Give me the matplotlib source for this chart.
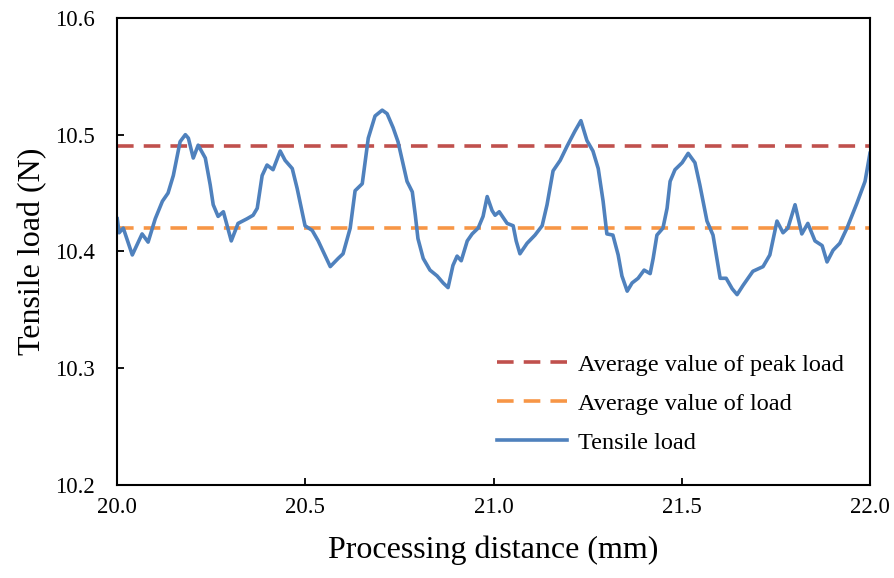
import matplotlib
matplotlib.use('Agg')
import matplotlib.pyplot as plt
from matplotlib.ticker import FormatStrFormatter

# measured tensile load along the processing distance
distance = [20.000, 20.005, 20.016, 20.040, 20.066, 20.082, 20.101, 20.120, 20.135, 20.149,
            20.167, 20.181, 20.189, 20.202, 20.215, 20.234, 20.247, 20.255, 20.268, 20.282,
            20.292, 20.303, 20.321, 20.345, 20.361, 20.372, 20.385, 20.398, 20.414, 20.433,
            20.446, 20.465, 20.478, 20.499, 20.518, 20.534, 20.566, 20.587, 20.600, 20.619,
            20.632, 20.651, 20.667, 20.685, 20.704, 20.717, 20.733, 20.746, 20.760, 20.770,
            20.784, 20.792, 20.799, 20.813, 20.831, 20.850, 20.866, 20.879, 20.892, 20.903,
            20.914, 20.930, 20.943, 20.959, 20.972, 20.983, 20.996, 21.004, 21.015, 21.036,
            21.052, 21.060, 21.070, 21.089, 21.110, 21.129, 21.142, 21.158, 21.177, 21.195,
            21.216, 21.232, 21.248, 21.264, 21.278, 21.291, 21.301, 21.317, 21.331, 21.341,
            21.355, 21.368, 21.384, 21.400, 21.416, 21.424, 21.434, 21.450, 21.461, 21.469,
            21.482, 21.501, 21.517, 21.535, 21.548, 21.567, 21.583, 21.602, 21.618, 21.634,
            21.647, 21.663, 21.689, 21.716, 21.734, 21.753, 21.769, 21.782, 21.801, 21.819,
            21.835, 21.854, 21.873, 21.886, 21.902, 21.920, 21.939, 21.965, 21.987, 22.000]
load = [10.428, 10.416, 10.420, 10.397, 10.415, 10.408, 10.428, 10.443, 10.450, 10.465,
        10.494, 10.500, 10.497, 10.480, 10.491, 10.480, 10.457, 10.440, 10.430, 10.434,
        10.422, 10.409, 10.424, 10.428, 10.431, 10.437, 10.465, 10.474, 10.470, 10.486,
        10.478, 10.471, 10.454, 10.422, 10.418, 10.409, 10.387, 10.394, 10.398, 10.420,
        10.452, 10.458, 10.497, 10.516, 10.521, 10.518, 10.506, 10.494, 10.474, 10.460,
        10.451, 10.431, 10.411, 10.394, 10.384, 10.379, 10.373, 10.369, 10.388, 10.396,
        10.392, 10.409, 10.415, 10.420, 10.430, 10.447, 10.435, 10.431, 10.434, 10.424,
        10.422, 10.409, 10.398, 10.407, 10.414, 10.422, 10.440, 10.469, 10.478, 10.490,
        10.503, 10.512, 10.495, 10.486, 10.471, 10.443, 10.415, 10.414, 10.397, 10.379,
        10.366, 10.373, 10.377, 10.384, 10.381, 10.394, 10.414, 10.420, 10.437, 10.460,
        10.470, 10.476, 10.484, 10.476, 10.457, 10.426, 10.414, 10.377, 10.377, 10.368,
        10.363, 10.371, 10.383, 10.387, 10.397, 10.426, 10.416, 10.420, 10.440, 10.415,
        10.424, 10.409, 10.405, 10.391, 10.401, 10.407, 10.420, 10.441, 10.460, 10.484]

avg_peak_load = 10.49
avg_load = 10.42

x_ticks = [20.0, 20.5, 21.0, 21.5, 22.0]
y_ticks = [10.2, 10.3, 10.4, 10.5, 10.6]

plt.rcParams['font.family'] = ['Liberation Serif', 'DejaVu Serif']

fig = plt.figure(figsize=(8.95, 5.78), dpi=100)
ax = fig.add_axes([0.131, 0.161, 0.841, 0.808])

ax.axhline(avg_peak_load, color='#C0504D', lw=2.6, dashes=(4.6, 2.8),
           label='Average value of peak load')
ax.axhline(avg_load, color='#F79646', lw=2.6, dashes=(4.6, 2.8),
           label='Average value of load')
ax.plot(distance, load, color='#4F81BD', lw=2.6, solid_joinstyle='round',
        label='Tensile load')

ax.set_xlim(20.0, 22.0)
ax.set_ylim(10.2, 10.6)
ax.set_xticks(x_ticks)
ax.set_yticks(y_ticks)
ax.xaxis.set_major_formatter(FormatStrFormatter('%.1f'))
ax.yaxis.set_major_formatter(FormatStrFormatter('%.1f'))
ax.tick_params(direction='in', length=5, width=1.3, labelsize=16.5)
ax.tick_params(axis='y', pad=16)
ax.tick_params(axis='x', pad=9)

for s in ax.spines.values():
    s.set_linewidth(1.5)
    s.set_color('black')

ax.set_xlabel('Processing distance (mm)', fontsize=23, labelpad=12)
ax.set_ylabel('Tensile load (N)', fontsize=23, labelpad=6)

ax.legend(loc='lower right', bbox_to_anchor=(0.995, 0.02), frameon=False,
          fontsize=17.5, handlelength=2.9, handletextpad=0.45, labelspacing=0.7)

plt.savefig('out.png', dpi=100)
